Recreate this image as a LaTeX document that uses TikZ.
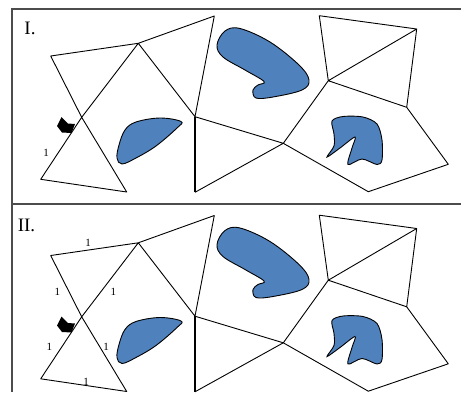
\documentclass[tikz,border=0pt]{standalone}
\usepackage{fontspec}
\setmainfont{Liberation Serif}
\definecolor{blobblue}{HTML}{4F81BD}
\begin{document}
\begin{tikzpicture}[x=1pt,y=-1pt,
    edge/.style={line width=0.9pt, line join=round},
    blob/.style={fill=blobblue, draw=black, line width=0.9pt},
    frame/.style={draw=black!70, line width=1.1pt},
    lbl/.style={font=\fontsize{11}{12}\selectfont, inner sep=0pt},
    title/.style={font=\fontsize{19}{20}\selectfont, inner sep=0pt}]
\useasboundingbox (0,0) rectangle (461,392);
\draw[frame] (461,9) -- (12,9) -- (12,392);
\draw[frame] (12,204) -- (461,204);
\node[title] (tI) at (30,28) {I.};
\node[title] (tII) at (26.5,225) {II.};
\foreach \dy in {0,199.5}{
\begin{scope}[shift={(0,\dy)}]
    \coordinate (A) at (50.7,56);
    \coordinate (B) at (138.3,43.3);
    \coordinate (C) at (214.3,16);
    \coordinate (X) at (81.7,117.3);
    \coordinate (D) at (40.7,179.3);
    \coordinate (E) at (126.7,192);
    \coordinate (F) at (195,116.7);
    \coordinate (G) at (195,192.3);
    \coordinate (H) at (283.3,143.3);
    \coordinate (P) at (319.3,15.7);
    \coordinate (Q) at (416.7,29);
    \coordinate (R) at (328.3,80.7);
    \coordinate (S) at (406.7,107.3);
    \coordinate (T) at (448.3,164.3);
    \coordinate (U) at (368.3,191.7);
    \draw[edge] (A) -- (B) -- (C) -- (F) -- (B) -- (X) -- (D) -- (E) -- (X) -- cycle;
    \draw[edge] (F) -- (H) -- (G);
    \draw[edge, line width=1.1pt] (F) -- (G);
    \draw[edge] (H) -- (R) -- (P) -- (Q) -- (R) -- (S) -- (Q);
    \draw[edge] (S) -- (T) -- (U) -- (H);
    % blue blobs
    \draw[blob] plot[smooth cycle, tension=0.6] coordinates {(217,45) (225,31) (240,28.5) (270,42)
        (299,65) (309,80) (302,90) (273,97) (256,98) (253,90) (258,85) (264,81.5) (245,70) (223,57)};
    \draw[blob] plot[smooth cycle, tension=0.6] coordinates {(181,121.5) (160,118) (136,122) (125,130)
        (119,145) (117,158) (122,164) (136,158) (156,146) (177,128)};
    \draw[blob] plot[smooth cycle, tension=0.5] coordinates {(332,121) (343,116.5) (363,117) (377,124)
        (382,140) (382,160) (377,164.5) (362,159) (348,164.5) (352,148) (355,137) (340,148)
        (327,157) (334,146) (334,134)};
    % black marker
    \fill (61.5,117) -- (68,123.5) -- (75,124) -- (71.5,133) -- (62,132.5) -- (57,126) -- cycle;
\end{scope}
}
\node[lbl] (nI) at (46,153) {1};
\node[lbl] (nab) at (88,242.7) {1};
\node[lbl] (nax) at (57.3,291.7) {1};
\node[lbl] (nbx) at (113.3,291.7) {1};
\node[lbl] (ndx) at (49.3,347.3) {1};
\node[lbl] (nex) at (106,347.3) {1};
\node[lbl] (nde) at (86,381.7) {1};
\end{tikzpicture}
\end{document}
